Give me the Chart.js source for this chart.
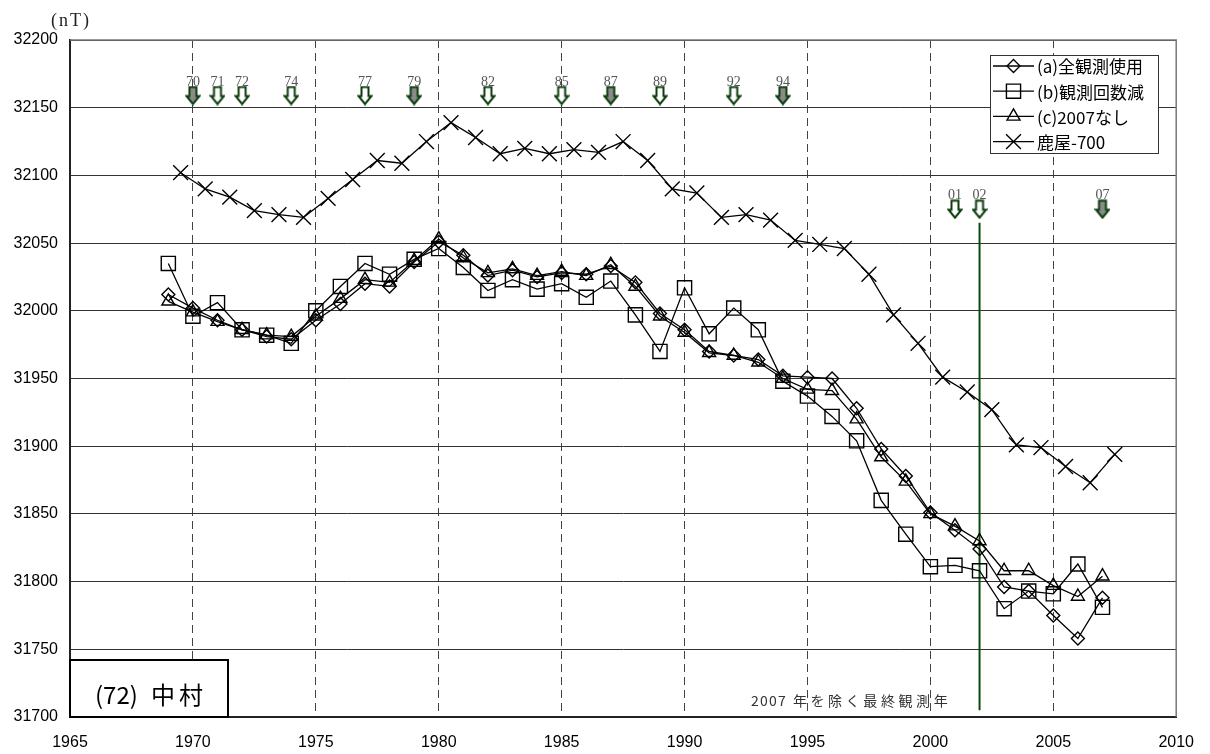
<!DOCTYPE html>
<html>
<head>
<meta charset="utf-8">
<script src="https://cdn.jsdelivr.net/npm/chart.js@4.4.1/dist/chart.umd.min.js"></script>
<style>
	html, body { margin: 0; padding: 0; background: #fff; }
	canvas { display: block; }
</style>
</head>
<body>
<canvas id="chart" width="1210" height="754"></canvas>
<script>
// repeat-survey epochs at Nakamura (72)
const surveyYears = [
	1969, 1970, 1971, 1972, 1973, 1974, 1975, 1976, 1977, 1978,
	1979, 1980, 1981, 1982, 1983, 1984, 1985, 1986, 1987, 1988,
	1989, 1990, 1991, 1992, 1993, 1994, 1995, 1996, 1997, 1998,
	1999, 2000, 2001, 2002, 2003, 2004, 2005, 2006, 2007,
];
// (a) all observations used
const allObs = [
	32012, 32002, 31993, 31986, 31981, 31979, 31993, 32005, 32020, 32018,
	32036, 32051, 32041, 32026, 32030, 32025, 32028, 32027, 32033, 32021,
	31998, 31986, 31970, 31967, 31964, 31952, 31951, 31950, 31928, 31898,
	31878, 31851, 31838, 31824, 31796, 31793, 31775, 31758, 31788,
];
// (b) fewer observations
const fewerObs = [
	32035, 31996, 32006, 31986, 31982, 31976, 32000, 32018, 32035, 32027,
	32038, 32046, 32032, 32015, 32023, 32016, 32020, 32010, 32022, 31997,
	31970, 32017, 31983, 32002, 31986, 31948, 31937, 31922, 31904, 31860,
	31835, 31811, 31812, 31808, 31780, 31793, 31791, 31813, 31781,
];
// (c) without the 2007 survey
const without2007 = [
	32007, 31999, 31992, 31986, 31982, 31981, 31996, 32009, 32023, 32021,
	32037, 32053, 32039, 32028, 32031, 32026, 32029, 32026, 32034, 32018,
	31996, 31984, 31969, 31967, 31962, 31950, 31942, 31941, 31920, 31892,
	31874, 31850, 31841, 31830, 31808, 31808, 31797, 31789, 31804,
];
// Kanoya annual means (minus 700 nT), plotted mid-year
const kanoyaYears = [
	1969.5, 1970.5, 1971.5, 1972.5, 1973.5, 1974.5, 1975.5, 1976.5, 1977.5, 1978.5,
	1979.5, 1980.5, 1981.5, 1982.5, 1983.5, 1984.5, 1985.5, 1986.5, 1987.5, 1988.5,
	1989.5, 1990.5, 1991.5, 1992.5, 1993.5, 1994.5, 1995.5, 1996.5, 1997.5, 1998.5,
	1999.5, 2000.5, 2001.5, 2002.5, 2003.5, 2004.5, 2005.5, 2006.5, 2007.5,
];
const kanoyaMinus700 = [
	32102, 32090, 32084, 32074, 32071, 32069, 32083, 32097, 32111, 32109,
	32125, 32139, 32128, 32116, 32120, 32116, 32119, 32117, 32125, 32111,
	32090, 32087, 32069, 32071, 32067, 32052, 32049, 32046, 32027, 31997,
	31976, 31951, 31940, 31927, 31901, 31899, 31885, 31873, 31894,
];

// survey arrows along the top
const arrowLabels = ['70', '71', '72', '74', '77', '79', '82', '85', '87', '89', '92', '94', '01', '02', '07'];
const arrowYears = [1970, 1971, 1972, 1974, 1977, 1979, 1982, 1985, 1987, 1989, 1992, 1994, 2001, 2002, 2007];
const arrowLevels = [
	32159, 32159, 32159, 32159, 32159, 32159, 32159, 32159, 32159, 32159, 32159, 32159,
	32075, 32075, 32075,
];
const arrowFilled = [true, false, false, false, false, true, false, false, true, false, false, true, false, false, true];

// last survey year apart from 2007
const lastSurveyYear = 2002;
const lastSurveySpan = [32065, 31705];

const xRange = [1965, 2010];
const yRange = [31700, 32200];
const xStep = 5;
const yStep = 50;

const legendLabels = ['(a)全観測使用', '(b)観測回数減', '(c)2007なし', '鹿屋-700'];
const stationName = ['(72)', '中', '村'];
const captionText = '2007 年を除く最終観測年';

const JP = '"Noto Sans CJK JP", sans-serif';
const SERIF = '"Liberation Serif", "DejaVu Serif", serif';
const GREEN = '#0d3d0d';

function makeArrow(fill) {
	let c = document.createElement('canvas');
	c.width = 16;
	c.height = 20;
	let g = c.getContext('2d');
	g.beginPath();
	g.moveTo(4.5, 1.5);
	g.lineTo(11.5, 1.5);
	g.lineTo(11.5, 10.5);
	g.lineTo(14.5, 10.5);
	g.lineTo(8, 18.5);
	g.lineTo(1.5, 10.5);
	g.lineTo(4.5, 10.5);
	g.closePath();
	g.fillStyle = fill;
	g.fill();
	g.lineWidth = 2;
	g.strokeStyle = GREEN;
	g.stroke();
	return c;
}
let hollowArrow = makeArrow('#ffffff');
let filledArrow = makeArrow('#8a8a8a');

let markers = [
	{pointStyle: 'rectRot', radius: 6.5},
	{pointStyle: 'rect', radius: 10},
	{pointStyle: 'triangle', radius: 7.5},
	{pointStyle: 'crossRot', radius: 10.5},
];

function pts(xs, ys) {
	return xs.map((x, i) => ({x, y: ys[i]}));
}

function series(label, xs, ys, m) {
	return {
		label,
		data: pts(xs, ys),
		borderColor: '#000',
		borderWidth: 1.3,
		pointStyle: m.pointStyle,
		pointRadius: m.radius,
		pointBorderColor: '#000',
		pointBorderWidth: 1.4,
		pointBackgroundColor: 'rgba(0,0,0,0)',
		tension: 0,
		fill: false,
	};
}

// draw text one character at a time with extra spacing
function spaced(ctx, text, x, y, gap) {
	for (let ch of text) {
		ctx.fillText(ch, x, y);
		x += ctx.measureText(ch).width + gap;
	}
	return x;
}

let decorations = {
	id: 'decorations',
	afterDraw(chart) {
		let {ctx, chartArea: a} = chart;
		let {drawPoint} = Chart.helpers;
		ctx.save();

		// plot frame, top and right
		ctx.strokeStyle = '#777';
		ctx.lineWidth = 1.5;
		ctx.beginPath();
		ctx.moveTo(a.left, a.top);
		ctx.lineTo(a.right, a.top);
		ctx.lineTo(a.right, a.bottom);
		ctx.stroke();

		// unit
		ctx.fillStyle = '#222';
		ctx.font = '18px ' + SERIF;
		ctx.textAlign = 'left';
		ctx.textBaseline = 'middle';
		spaced(ctx, '(nT)', 51, 21, 2);

		// arrow labels
		let arrows = chart.getDatasetMeta(5).data;
		ctx.textAlign = 'center';
		ctx.font = '14px ' + SERIF;
		ctx.fillStyle = '#555';
		arrows.forEach((el, i) => {
			ctx.fillText(arrowLabels[i], el.x, el.y - 13.5);
		});

		// legend
		let lx = 990, ly = 55, lw = 168, lh = 98;
		ctx.fillStyle = '#fff';
		ctx.fillRect(lx, ly, lw, lh);
		ctx.strokeStyle = '#333';
		ctx.lineWidth = 1;
		ctx.strokeRect(lx + 0.5, ly + 0.5, lw, lh);
		ctx.font = '17px ' + JP;
		ctx.textAlign = 'left';
		legendLabels.forEach((t, i) => {
			let y = 66 + i * 25.2;
			ctx.strokeStyle = '#000';
			ctx.lineWidth = 1.3;
			ctx.beginPath();
			ctx.moveTo(993, y);
			ctx.lineTo(1034, y);
			ctx.stroke();
			ctx.fillStyle = 'rgba(0,0,0,0)';
			ctx.lineWidth = 1.4;
			drawPoint(ctx, {pointStyle: markers[i].pointStyle, radius: markers[i].radius, rotation: 0, borderWidth: 1.4}, 1013.5, y);
			ctx.fillStyle = '#000';
			ctx.fillText(t, 1037, y + 1);
		});

		// station box
		ctx.fillStyle = '#fff';
		ctx.fillRect(a.left, 660, 158, a.bottom - 660);
		ctx.strokeStyle = '#000';
		ctx.lineWidth = 2;
		ctx.strokeRect(a.left, 660, 158, a.bottom - 660);
		ctx.fillStyle = '#000';
		ctx.font = '24px ' + JP;
		ctx.fillText(stationName[0], 95, 695);
		ctx.fillText(stationName[1], 151, 695);
		ctx.fillText(stationName[2], 179, 695);

		// caption beside the last-survey line
		ctx.fillStyle = '#333';
		ctx.font = '14px ' + JP;
		let parts = captionText.split(' ');
		let x = spaced(ctx, parts[0], 751, 701, 1.2);
		spaced(ctx, parts[1], x + 6, 701, 3.6);

		ctx.restore();
	},
};

new Chart(document.getElementById('chart'), {
	type: 'line',
	data: {
		datasets: [
			series(legendLabels[0], surveyYears, allObs, markers[0]),
			series(legendLabels[1], surveyYears, fewerObs, markers[1]),
			series(legendLabels[2], surveyYears, without2007, markers[2]),
			series(legendLabels[3], kanoyaYears, kanoyaMinus700, markers[3]),
			{
				label: 'last survey',
				data: [{x: lastSurveyYear, y: lastSurveySpan[0]}, {x: lastSurveyYear, y: lastSurveySpan[1]}],
				borderColor: '#0b4a0b',
				borderWidth: 2,
				pointRadius: 0,
			},
			{
				label: 'surveys',
				data: pts(arrowYears, arrowLevels),
				showLine: false,
				pointStyle: arrowFilled.map((f) => (f ? filledArrow : hollowArrow)),
				pointRadius: 9,
			},
		],
	},
	options: {
		responsive: false,
		animation: false,
		events: [],
		layout: {
			padding: {top: 40, right: 30, left: 0, bottom: 0},
		},
		plugins: {
			legend: {display: false},
			tooltip: {enabled: false},
		},
		scales: {
			x: {
				type: 'linear',
				min: xRange[0],
				max: xRange[1],
				afterFit(scale) {
					scale.height = 37;
				},
				ticks: {
					stepSize: xStep,
					autoSkip: false,
					padding: 16,
					color: '#000',
					font: {family: '"Liberation Sans", Arial, sans-serif', size: 16},
					callback: (v) => String(v),
				},
				grid: {
					drawTicks: false,
					lineWidth: 1,
					color: (c) => (c.tick && (c.tick.value === xRange[0] || c.tick.value === xRange[1]) ? 'rgba(0,0,0,0)' : '#444'),
				},
				border: {
					color: '#222',
					width: 2,
					dash: [8, 5],
				},
			},
			y: {
				min: yRange[0],
				max: yRange[1],
				afterFit(scale) {
					scale.width = 70;
				},
				ticks: {
					stepSize: yStep,
					autoSkip: false,
					padding: 12,
					color: '#000',
					font: {family: '"Liberation Sans", Arial, sans-serif', size: 16},
					callback: (v) => String(v),
				},
				grid: {
					drawTicks: false,
					lineWidth: 1,
					color: '#333',
				},
				border: {
					color: '#222',
					width: 2,
				},
			},
		},
	},
	plugins: [decorations],
});
</script>
</body>
</html>
